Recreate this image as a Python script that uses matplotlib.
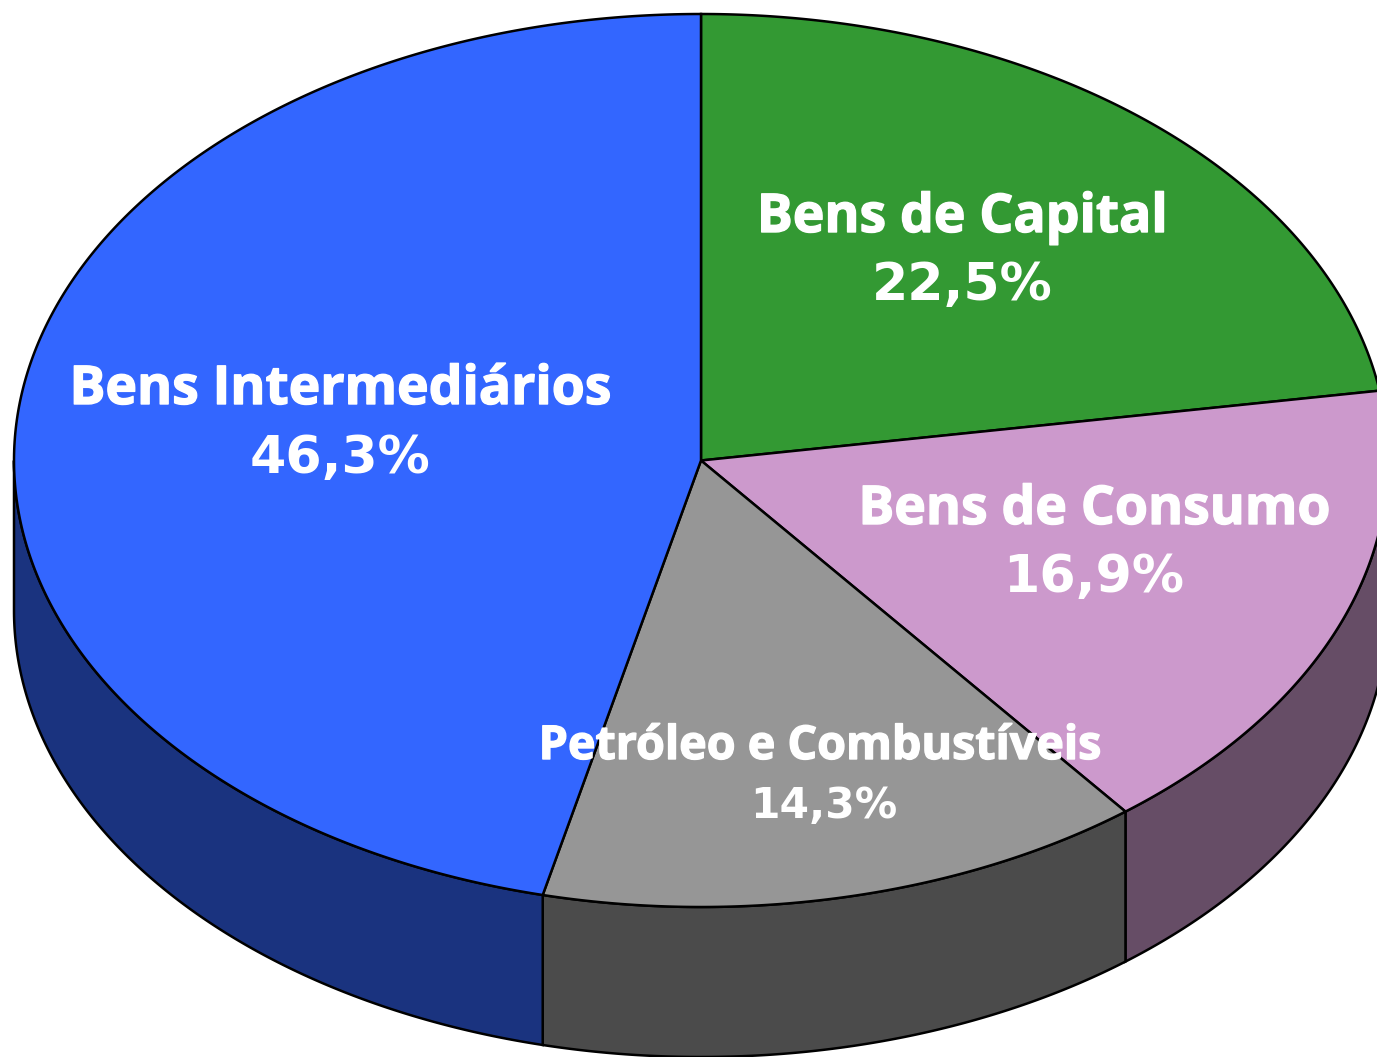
import numpy as np
import matplotlib
matplotlib.use('Agg')
import matplotlib.pyplot as plt
import matplotlib.patheffects as pe
from matplotlib.patches import Polygon

# data
labels = ['Bens de Capital', 'Bens de Consumo', 'Petróleo e Combustíveis', 'Bens Intermediários']
values = [22.5, 16.9, 14.3, 46.3]
value_labels = ['22,5%', '16,9%', '14,3%', '46,3%']
top_colours = ['#339933', '#CC99CC', '#969696', '#3366FF']
side_colours = ['#1A4D1A', '#664D66', '#4B4B4B', '#1A337F']
# centre x of the label, baseline of name and of value
label_pos = [(962, 232, 300), (1094, 524, 592), (820, 759, 818), (340, 404, 473)]
label_sizes = [38.5, 38.5, 33.6, 38.5]
value_sizes = [37.5, 37.5, 30.5, 37.5]

# pie geometry in pixels
cx, cy = 701, 460.5
rx, ry = 687, 446.5
depth = 150


def rim(theta):
    # theta is degrees clockwise from the top
    t = np.radians(theta)
    return cx + rx * np.sin(t), cy - ry * np.cos(t)


fig = plt.figure(figsize=(13.77, 10.57), dpi=100)
ax = fig.add_axes([0, 0, 1, 1])
ax.set_xlim(0, 1377)
ax.set_ylim(1057, 0)
ax.axis('off')

edges = np.cumsum([0] + values) * 3.6

# side walls first, only the front half shows
for i in range(len(values)):
    a = max(edges[i], 90)
    b = min(edges[i + 1], 270)
    if b <= a:
        continue
    th = np.linspace(a, b, 200)
    x, y = rim(th)
    pts = np.r_[np.c_[x, y], np.c_[x[::-1], y[::-1] + depth]]
    ax.add_patch(Polygon(pts, closed=True, facecolor=side_colours[i], edgecolor='black', linewidth=1.8))

# top slices
for i in range(len(values)):
    th = np.linspace(edges[i], edges[i + 1], 300)
    x, y = rim(th)
    pts = np.r_[[[cx, cy]], np.c_[x, y]]
    ax.add_patch(Polygon(pts, closed=True, facecolor=top_colours[i], edgecolor='black', linewidth=1.8))

stroke = [pe.withStroke(linewidth=1.0, foreground='white')]
for i in range(len(values)):
    px, py_name, py_val = label_pos[i]
    ax.text(px, py_name, labels[i], color='white', fontsize=label_sizes[i], fontweight='bold',
            family='Open Sans', ha='center', va='baseline', path_effects=stroke)
    ax.text(px + (4 if i == 2 else 0), py_val, value_labels[i], color='white', fontsize=value_sizes[i],
            fontweight='bold', family='DejaVu Sans', ha='center', va='baseline')

fig.savefig('out.png', dpi=100)
